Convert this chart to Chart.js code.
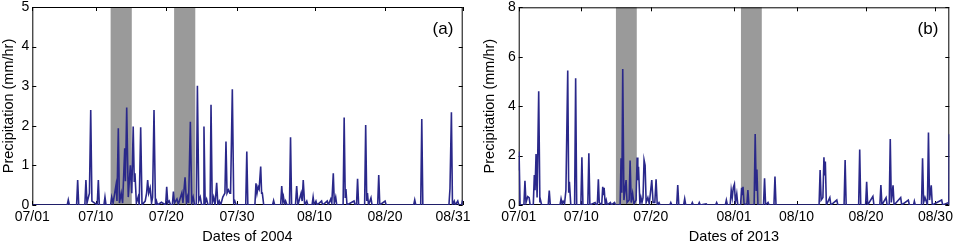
<!DOCTYPE html>
<html lang="en">
<head>
<meta charset="UTF-8">
<title>Precipitation, summer 2004 and 2013</title>
<script src="https://cdn.jsdelivr.net/npm/chart.js"></script>
<style>
  body { margin: 0; background: #fff; }
  #wrap { position: relative; width: 955px; height: 247px; overflow: hidden; }
  canvas { position: absolute; top: 0; }
</style>
</head>
<body>
<div id="wrap">
  <canvas id="chartA" width="500" height="247" style="left:0px"></canvas>
  <canvas id="chartB" width="485" height="247" style="left:470px"></canvas>
</div>
<script>
// x values are days after 07/01 00:00, y values are mm/hr
const tickDaysA = [0, 9, 19, 29, 40, 50, 61];
const tickLabelsA = ['07/01', '07/10', '07/20', '07/30', '08/10', '08/20', '08/31     '];
const tickDaysB = [0, 9, 19, 31, 40, 50, 60];
const tickLabelsB = ['07/01', '07/10', '07/20', '08/01', '08/10', '08/20', '08/30'];

// shaded periods [start, end] in days
const bandsA = [[11.1, 14.1], [20.1, 23.1]];
const bandsB = [[14, 17], [32, 35]];

const rainA = [
  [0,0],[4.95,0],[5.1,0.13],[5.25,0],[6.28,0],[6.43,0.63],[6.58,0],[7.45,0],[7.6,0.63],[7.75,0.05],
  [8.1,0.3],[8.28,2.4],[8.45,0.1],[9.2,0],[9.36,0.63],[9.5,0],[10.15,0],[10.3,0.2],[10.45,0],
  [11.1,0],[11.25,0.2],[11.45,0.05],[11.86,0.5],[12.0,0.1],[12.19,1.94],[12.35,0.05],[12.6,0.3],
  [12.8,0.05],[13.1,1.43],[13.2,0.6],[13.38,2.46],[13.6,0.2],[13.9,1.0],[14.1,0.3],[14.3,1.98],
  [14.45,0.6],[14.55,0.8],[14.75,0.05],[15.0,0.2],[15.15,0],[15.36,1.96],[15.55,0],[16.0,0.1],
  [16.2,0.3],[16.35,0.63],[16.5,0.3],[16.7,0.43],[16.9,0.05],[17.05,0.2],[17.25,2.4],[17.45,0],
  [17.6,0.1],[17.75,0],[18.3,0.07],[18.9,0],[19.05,0.46],[19.2,0.05],[19.4,0.1],[19.6,0],[19.85,0],
  [20.0,0.34],[20.15,0.05],[20.5,0.15],[20.7,0.02],[21.2,0.31],[21.35,0.05],[21.65,0.7],[21.85,0.05],
  [22.0,0.2],[22.15,0.05],[22.4,2.1],[22.6,0.05],[22.8,0.2],[23.0,0],[23.25,0],[23.4,3.01],[23.6,0.1],
  [23.8,0.2],[24.0,0],[24.2,0],[24.33,1.98],[24.5,0.05],[24.7,0.15],[24.9,0],[25.2,0],[25.33,2.53],
  [25.5,0.05],[25.7,0.2],[25.9,0],[26.13,0.56],[26.3,0],[26.5,0.1],[26.7,0],[27.0,0.2],[27.3,0.3],
  [27.45,1.6],[27.6,0.3],[27.8,0.38],[28.0,0.3],[28.1,0.3],[28.35,2.92],[28.55,0.05],[28.7,0.1],
  [28.9,0],[30.25,0],[30.4,1.35],[30.55,0],[31.55,0],[31.7,0.55],[31.85,0.3],[32.0,0.46],[32.15,0.4],
  [32.37,0.97],[32.5,0.3],[32.6,0.3],[32.8,0],[34.05,0],[34.2,0.11],[34.35,0],[35.2,0],[35.35,0.48],
  [35.5,0.1],[35.6,0.2],[35.75,0.02],[35.9,0.1],[36.1,0],[36.45,0],[36.6,1.71],[36.75,0],[37.3,0],
  [37.47,0.48],[37.65,0],[38.1,0.3],[38.25,0.1],[38.4,0.63],[38.6,0],[38.9,0.1],[39.05,0],[39.65,0],
  [39.8,0.2],[39.95,0],[40.2,0.1],[40.35,0],[41.0,0.1],[41.15,0],[41.8,0.1],[41.95,0],[42.3,0.15],
  [42.45,0.05],[42.66,0.8],[42.8,0.05],[43.0,0.2],[43.15,0],[44.05,0],[44.2,2.21],[44.35,0.2],
  [44.45,0.4],[44.6,0],[45.6,0.1],[45.75,0],[45.95,0],[46.1,0.66],[46.25,0],[47.1,0],[47.25,2.02],
  [47.4,0.1],[47.5,0.3],[47.65,0],[48.0,0.18],[48.15,0],[48.95,0],[49.1,0.76],[49.25,0],[50.0,0.1],
  [50.15,0],[54.05,0],[54.2,0.13],[54.35,0],[55.05,0],[55.2,2.17],[55.35,0],[59.05,0],[59.2,0.42],
  [59.4,2.34],[59.55,0],[59.8,0.1],[59.95,0],[60.3,0.1],[60.45,0],[60.85,0],[61,0.13]
];

const rainB = [
  [0,1.4],[0.05,2.16],[0.2,0],[0.75,0],[0.9,0.98],[1.05,0.1],[1.3,0.34],[1.5,0.3],[1.65,0],[2.1,0],
  [2.25,1.21],[2.35,0.6],[2.5,2.06],[2.65,0.3],[2.88,4.6],[3.05,0.1],[3.1,0.25],[3.3,0],[4.25,0],
  [4.4,0.58],[4.55,0],[5.95,0],[6.1,0.25],[6.25,0.05],[6.4,0.15],[6.6,0.05],[6.8,0.6],[7.06,5.44],
  [7.2,0.5],[7.3,0.94],[7.5,0],[8.05,0],[8.2,5.13],[8.35,0],[8.95,0],[9.1,1.93],[9.25,0],[9.95,0],
  [10.1,2.09],[10.25,0],[11.0,0.1],[11.15,0],[11.32,0],[11.47,1.04],[11.6,0.1],[11.95,0],[12.1,0.74],
  [12.2,0.4],[12.3,0.7],[12.45,0.05],[12.6,0.2],[12.75,0],[13.2,0.1],[13.35,0],[13.8,0.1],[13.95,0],
  [14.6,0],[14.74,1.89],[14.85,0.5],[14.98,5.5],[15.15,0.2],[15.46,1.01],[15.6,0.1],[15.9,0.2],
  [16.04,1.8],[16.2,0.1],[16.4,0.47],[16.6,0.05],[16.9,0.2],[17.05,1.92],[17.15,1.0],[17.25,1.55],
  [17.45,0.05],[17.6,0.3],[17.75,0.1],[17.9,0.3],[18.05,1.82],[18.2,1.6],[18.35,0.1],[18.6,0.3],
  [18.8,0.05],[19.16,1.01],[19.35,0.1],[19.6,0.1],[19.78,1.04],[19.95,0],[20.2,0.1],[20.35,0],
  [21.75,0],[21.9,0.1],[22.05,0],[22.75,0],[22.9,0.81],[23.05,0],[23.75,0],[23.9,0.25],[24.05,0],
  [24.85,0],[25.0,0.1],[25.15,0],[25.85,0],[26.0,0.1],[26.15,0],[27.0,0.05],[27.15,0],[28.35,0],
  [28.5,0.1],[28.65,0],[29.75,0],[29.9,0.2],[30.05,0],[30.45,0],[30.6,0.6],[30.75,0.3],[30.9,0.7],
  [31.06,0.84],[31.2,0.1],[31.4,0.45],[31.55,0],[31.95,0],[32.1,0.7],[32.2,0.4],[32.3,0.74],
  [32.45,0.05],[32.85,0],[33.0,0.6],[33.15,0],[33.9,0],[34.05,2.87],[34.2,0.6],[34.3,1.44],[34.45,0],
  [35.25,0],[35.4,1.08],[35.55,0],[35.9,0.1],[36.05,0],[36.75,0],[36.9,1.15],[37.05,0],[43.25,0],
  [43.4,1.42],[43.55,0.2],[43.8,0.3],[43.95,1.93],[44.05,1.2],[44.15,1.76],[44.3,0],[44.8,0.3],
  [44.95,0],[45.8,0.2],[45.95,0],[46.85,0],[47.0,1.82],[47.15,0],[48.95,0],[49.1,2.25],[49.25,0],
  [49.95,0],[50.1,0.94],[50.25,0],[51.0,0.35],[51.15,0],[52.0,0],[52.15,0.81],[52.3,0],[52.9,0.3],
  [53.05,0],[53.35,0],[53.5,2.67],[53.65,0.1],[53.9,0.8],[54.05,0],[55.0,0.3],[55.15,0],[56.1,0.2],
  [56.25,0],[56.85,0],[56.97,0.15],[57.1,0],[58.0,0],[58.15,1.89],[58.3,0.1],[58.5,0.3],[58.85,0],
  [59.0,2.93],[59.15,0.2],[59.4,0.8],[59.55,0],[60.9,0.2],[61.05,0],[61.9,0.1],[61.95,0],[62,2.86]
];

Chart.defaults.font.family = '"Liberation Sans", Arial, sans-serif';
Chart.defaults.color = '#000';

// grey periods, axis box, inward tick marks and panel letter
const framePlugin = {
  id: 'frame',
  beforeDatasetsDraw(chart, args, opts) {
    const { ctx, chartArea: a, scales: { x, y } } = chart;
    ctx.save();
    ctx.fillStyle = '#9a9a9a';
    opts.bands.forEach(([s, e]) => {
      const x1 = x.getPixelForValue(s), x2 = x.getPixelForValue(e);
      ctx.fillRect(x1, a.top, x2 - x1, a.bottom - a.top);
    });

    ctx.strokeStyle = '#000';
    ctx.lineWidth = 1;
    ctx.strokeRect(a.left + 0.5, a.top + 0.5, a.right - a.left - 1, a.bottom - a.top - 1);

    const len = 4;
    ctx.beginPath();
    x.ticks.forEach(t => {
      const px = Math.round(x.getPixelForValue(t.value)) + 0.5;
      ctx.moveTo(px, a.bottom); ctx.lineTo(px, a.bottom - len);
      ctx.moveTo(px, a.top); ctx.lineTo(px, a.top + len);
    });
    y.ticks.forEach(t => {
      const py = Math.round(y.getPixelForValue(t.value)) + 0.5;
      ctx.moveTo(a.left, py); ctx.lineTo(a.left + len, py);
      ctx.moveTo(a.right, py); ctx.lineTo(a.right - len, py);
    });
    ctx.stroke();

    ctx.fillStyle = '#000';
    ctx.font = '17px "Liberation Sans", Arial, sans-serif';
    ctx.textAlign = 'center';
    ctx.textBaseline = 'middle';
    ctx.fillText(opts.letter, opts.letterX, opts.letterY);
    ctx.restore();
  }
};

function makeChart(id, cfg) {
  return new Chart(document.getElementById(id), {
    type: 'line',
    data: {
      datasets: [{
        data: cfg.rain.map(([d, v]) => ({ x: d, y: v })),
        borderColor: '#2a288a',
        borderWidth: 1.6,
        pointRadius: 0,
        tension: 0,
        fill: false
      }]
    },
    options: {
      responsive: false,
      animation: false,
      events: [],
      layout: { padding: cfg.padding },
      plugins: {
        legend: { display: false },
        tooltip: { enabled: false },
        frame: { bands: cfg.bands, letter: cfg.letter, letterX: cfg.letterX, letterY: cfg.letterY }
      },
      scales: {
        x: {
          type: 'linear',
          min: 0,
          max: cfg.xMax,
          afterBuildTicks: s => { s.ticks = cfg.tickDays.map(v => ({ value: v })); },
          afterFit: s => { s.height = 42; s.paddingLeft = 0; s.paddingRight = 0; },
          grid: { display: false, drawTicks: false },
          border: { display: false },
          ticks: {
            autoSkip: false,
            maxRotation: 0,
            padding: 4,
            font: { size: 14 },
            callback: (v, i) => cfg.tickLabels[i]
          },
          title: { display: true, text: cfg.xTitle, font: { size: 14.5 }, padding: { top: 0, bottom: 1 } }
        },
        y: {
          min: 0,
          max: cfg.yMax,
          afterFit: s => { s.width = cfg.yWidth; s.paddingTop = 0; s.paddingBottom = 0; },
          grid: { display: false, drawTicks: false },
          border: { display: false },
          ticks: { stepSize: cfg.yStep, padding: 3, font: { size: 14 } },
          title: { display: true, text: 'Precipitation (mm/hr)', font: { size: 14.5 }, padding: { top: 0, bottom: 0 } }
        }
      }
    },
    plugins: [framePlugin]
  });
}

makeChart('chartA', {
  rain: rainA, bands: bandsA, tickDays: tickDaysA, tickLabels: tickLabelsA,
  xMax: 61, yMax: 5, yStep: 1, xTitle: 'Dates of 2004',
  letter: '(a)', letterX: 443, letterY: 29,
  yWidth: 32.3, padding: { left: 0, right: 37.3, top: 7, bottom: 0 }
});

makeChart('chartB', {
  rain: rainB, bands: bandsB, tickDays: tickDaysB, tickLabels: tickLabelsB,
  xMax: 62, yMax: 8, yStep: 2, xTitle: 'Dates of 2013',
  letter: '(b)', letterX: 458, letterY: 29,
  yWidth: 37.1, padding: { left: 11.6, right: 5.7, top: 7.3, bottom: 0 }
});
</script>
</body>
</html>
